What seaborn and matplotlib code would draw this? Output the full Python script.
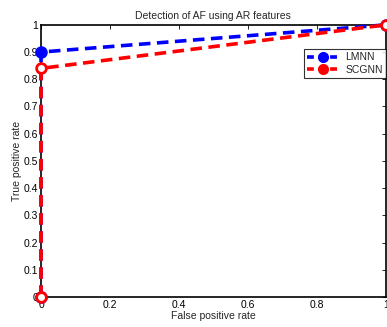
import matplotlib
matplotlib.use("Agg")
import matplotlib.pyplot as plt
from matplotlib.lines import Line2D
import seaborn as sns
import pandas as pd

fpr_lmnn = [0, 0, 1]
tpr_lmnn = [0, 0.9, 1]
fpr_scgnn = [0, 0, 1]
tpr_scgnn = [0, 0.84, 1]
methods = ["LMNN", "SCGNN"]
colors = ["#0000ff", "#ff0000"]

df = pd.concat([
    pd.DataFrame({"fpr": fpr_lmnn, "tpr": tpr_lmnn, "method": methods[0]}),
    pd.DataFrame({"fpr": fpr_scgnn, "tpr": tpr_scgnn, "method": methods[1]}),
])

sns.set_style("white")
plt.rcParams['font.family'] = ['Liberation Sans', 'DejaVu Sans']

fig = plt.figure(figsize=(3.87, 3.27), dpi=100)
ax = fig.add_axes([0.106, 0.092, 0.891, 0.832])

faces = ["#0000ff", "white"]
for m, c, fc in zip(methods, colors, faces):
    sub = df[df["method"] == m]
    sns.lineplot(data=sub, x="fpr", y="tpr", sort=False, estimator=None, ax=ax,
                 color=c, linewidth=2.6, marker="o", markersize=7,
                 markeredgecolor=c, markerfacecolor=fc, markeredgewidth=2.0,
                 clip_on=False, legend=False)
    ln = ax.lines[-1]
    ln.set_linestyle((0, (3.2, 1.8)))
    ln.set_markerfacecolor(fc)
    ln.set_zorder(3)

ax.set_xlim(0, 1)
ax.set_ylim(0, 1)
ax.set_xticks([0, 0.2, 0.4, 0.6, 0.8, 1])
ax.set_xticklabels(["0", "0.2", "0.4", "0.6", "0.8", "1"])
ax.set_yticks([i / 10 for i in range(11)])
ax.set_yticklabels(["0"] + [f"0.{i}" for i in range(1, 10)] + ["1"])
ax.tick_params(direction="in", length=3, width=0.6, top=True, right=True,
               labelsize=7.5, pad=2, colors="black")
for s in ax.spines.values():
    s.set_color("black")
    s.set_linewidth(1.2)
ax.set_xlabel("False positive rate", fontsize=7.5, labelpad=1)
ax.set_ylabel("True positive rate", fontsize=7.5, labelpad=1)
ax.set_title("Detection of AF using AR features", fontsize=7.5, pad=4)

handles = [Line2D([0], [0], color=c, linewidth=2.6, linestyle=(0, (1.9, 1.3)),
                  marker="o", markersize=7, markerfacecolor=c, markeredgecolor=c)
           for c in colors]
leg = ax.legend(handles, methods, loc="upper right", bbox_to_anchor=(1.0, 0.91), fontsize=7.5,
                frameon=True, fancybox=False, edgecolor="black", handlelength=3.2,
                borderpad=0.3, labelspacing=0.2, handletextpad=0.5, borderaxespad=0.0)
leg.get_frame().set_linewidth(0.8)

fig.savefig("out.png", dpi=100)
